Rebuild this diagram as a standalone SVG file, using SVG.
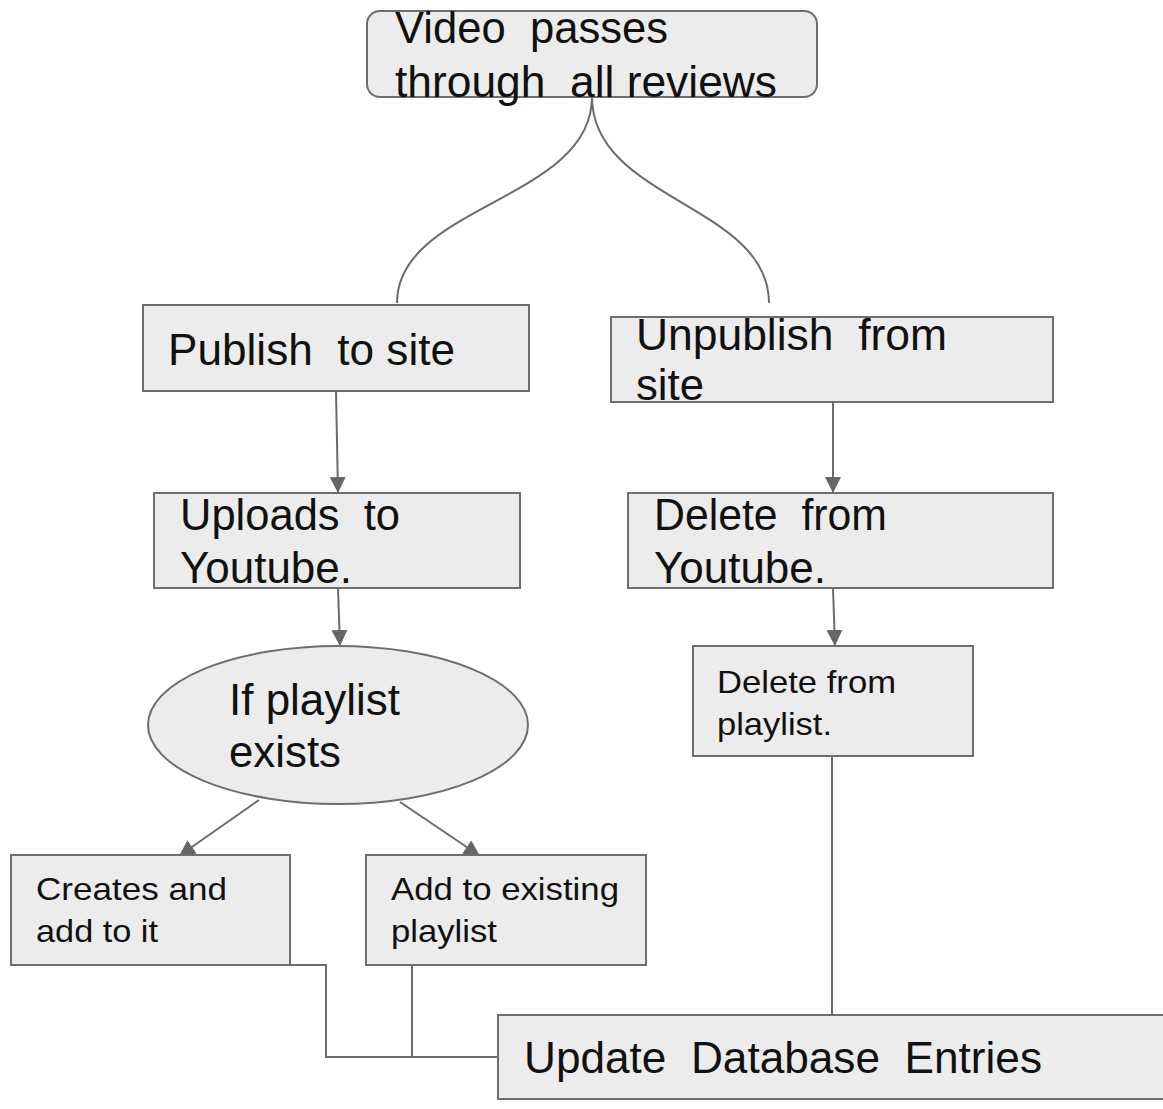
<svg xmlns="http://www.w3.org/2000/svg" width="1163" height="1109" viewBox="0 0 1163 1109">
<defs>
<style>
.box{fill:#ececec;stroke:#6e6e6e;stroke-width:2}
.t{font-family:"Liberation Sans",Arial,sans-serif;fill:#111;white-space:pre}
.big{font-size:44px}
.small{font-size:32px}
.c{fill:none;stroke:#6b6b6b;stroke-width:2}
</style>
<marker id="ah" markerUnits="userSpaceOnUse" markerWidth="16" markerHeight="16" viewBox="0 0 16 16" refX="16" refY="8" orient="auto">
<path d="M0,0 L16,8 L0,16 Z" fill="#666"/>
</marker>
</defs>
<rect width="1163" height="1109" fill="#fff"/>
<g id="connectors">
<path class="c" d="M592,97 C592,200 397,205 397,303"/>
<path class="c" d="M592,97 C592,200 769,205 769,303"/>
<line class="c" x1="336" y1="391" x2="338" y2="493" marker-end="url(#ah)"/>
<line class="c" x1="338" y1="588" x2="340" y2="646" marker-end="url(#ah)"/>
<line class="c" x1="833" y1="402" x2="833" y2="493" marker-end="url(#ah)"/>
<line class="c" x1="833" y1="588" x2="835" y2="646" marker-end="url(#ah)"/>
<line class="c" x1="259" y1="800" x2="179" y2="856" marker-end="url(#ah)"/>
<line class="c" x1="400" y1="802" x2="480" y2="856" marker-end="url(#ah)"/>
<path class="c" d="M290,965 H326 V1057 H498"/>
<line class="c" x1="412" y1="965" x2="412" y2="1057"/>
<line class="c" x1="832" y1="756" x2="832" y2="1015"/>
</g>
<g id="n_review">
<rect class="box" x="367" y="11" width="450" height="86" rx="13"/>
<text class="t big" xml:space="preserve" x="395" y="43" textLength="273" lengthAdjust="spacingAndGlyphs">Video  passes</text>
<text class="t big" xml:space="preserve" x="395" y="97" textLength="382" lengthAdjust="spacingAndGlyphs">through  all reviews</text>
</g>
<g id="n_publish">
<rect class="box" x="143" y="305" width="386" height="86"/>
<text class="t" xml:space="preserve" style="font-size:45px" x="168" y="365" textLength="287" lengthAdjust="spacingAndGlyphs">Publish  to site</text>
</g>
<g id="n_unpublish">
<rect class="box" x="611" y="317" width="442" height="85"/>
<text class="t big" xml:space="preserve" x="636" y="350" textLength="311" lengthAdjust="spacingAndGlyphs">Unpublish  from</text>
<text class="t big" x="636" y="400" textLength="68" lengthAdjust="spacingAndGlyphs">site</text>
</g>
<g id="n_upload">
<rect class="box" x="154" y="493" width="366" height="95"/>
<text class="t big" xml:space="preserve" x="180" y="530" textLength="220" lengthAdjust="spacingAndGlyphs">Uploads  to</text>
<text class="t big" x="180" y="583" textLength="172" lengthAdjust="spacingAndGlyphs">Youtube.</text>
</g>
<g id="n_delyt">
<rect class="box" x="628" y="493" width="425" height="95"/>
<text class="t big" xml:space="preserve" x="654" y="530" textLength="233" lengthAdjust="spacingAndGlyphs">Delete  from</text>
<text class="t big" x="654" y="583" textLength="172" lengthAdjust="spacingAndGlyphs">Youtube.</text>
</g>
<g id="n_ifplaylist">
<ellipse class="box" cx="338" cy="725" rx="190" ry="79"/>
<text class="t big" x="229" y="715" textLength="171" lengthAdjust="spacingAndGlyphs">If playlist</text>
<text class="t big" x="229" y="767" textLength="112" lengthAdjust="spacingAndGlyphs">exists</text>
</g>
<g id="n_delpl">
<rect class="box" x="693" y="646" width="280" height="110"/>
<text class="t small" x="717" y="693" textLength="179" lengthAdjust="spacingAndGlyphs">Delete from</text>
<text class="t small" x="717" y="735" textLength="115" lengthAdjust="spacingAndGlyphs">playlist.</text>
</g>
<g id="n_create">
<rect class="box" x="11" y="855" width="279" height="110"/>
<text class="t small" x="36" y="900" textLength="191" lengthAdjust="spacingAndGlyphs">Creates and</text>
<text class="t small" x="36" y="942" textLength="122" lengthAdjust="spacingAndGlyphs">add to it</text>
</g>
<g id="n_add">
<rect class="box" x="366" y="855" width="280" height="110"/>
<text class="t small" x="391" y="900" textLength="228" lengthAdjust="spacingAndGlyphs">Add to existing</text>
<text class="t small" x="391" y="942" textLength="106" lengthAdjust="spacingAndGlyphs">playlist</text>
</g>
<g id="n_update">
<rect class="box" x="498" y="1015" width="680" height="84"/>
<text class="t big" xml:space="preserve" x="524" y="1073" textLength="518" lengthAdjust="spacingAndGlyphs">Update  Database  Entries</text>
</g>
</svg>
